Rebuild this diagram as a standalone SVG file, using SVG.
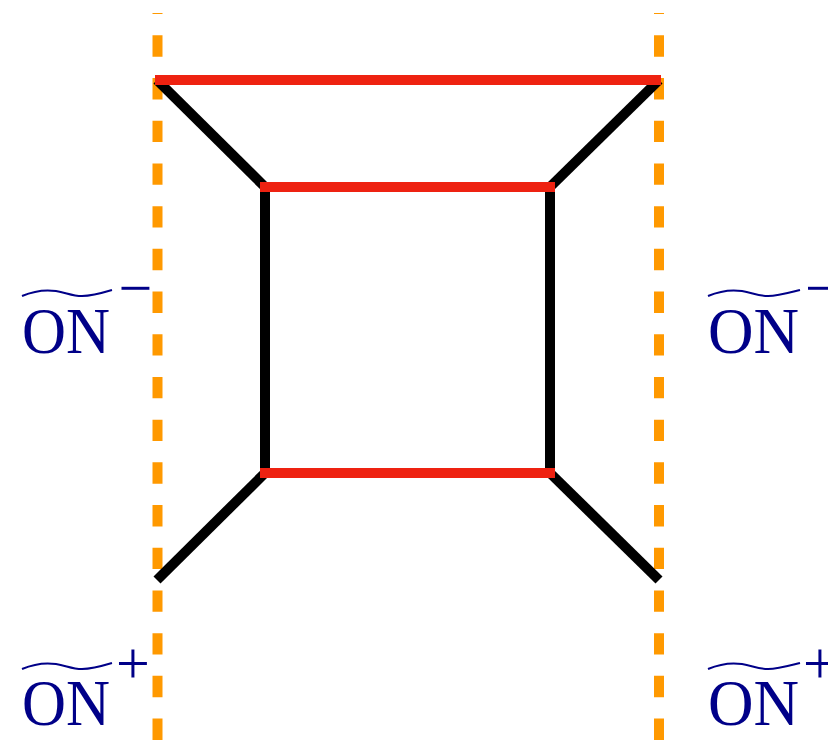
<svg xmlns="http://www.w3.org/2000/svg" width="828" height="741" viewBox="0 0 828 741">
<style>
.guide{stroke:#ff9900;stroke-width:10;stroke-dasharray:21.35 21.35;stroke-dashoffset:20.35;fill:none}
.red{stroke:#ee2211;stroke-width:10;stroke-linecap:butt}
.blk{stroke:#000;stroke-width:10;stroke-linecap:butt}
.lbl{font-family:"Liberation Serif","Times New Roman",serif;font-size:66px;fill:#000088}
.sup{font-family:"Liberation Serif","Times New Roman",serif;font-size:60px;fill:#000088;text-anchor:middle}
.tilde{fill:none;stroke:#000088;stroke-width:2}
</style>
<rect width="828" height="741" fill="#fff"/>
<g id="guides">
<line class="guide" x1="157.5" y1="13" x2="157.5" y2="741"/>
<line class="guide" x1="659" y1="13" x2="659" y2="741"/>
</g>
<g id="connectors">
<line class="blk" x1="157" y1="80" x2="265" y2="187"/>
<line class="blk" x1="659" y1="80" x2="550" y2="187"/>
<line class="blk" x1="265" y1="187" x2="265" y2="473"/>
<line class="blk" x1="550" y1="187" x2="550" y2="473"/>
<line class="blk" x1="265" y1="473" x2="157" y2="580"/>
<line class="blk" x1="550" y1="473" x2="659" y2="580"/>
<line class="red" x1="155" y1="80" x2="661" y2="80"/>
<line class="red" x1="260" y1="187" x2="555" y2="187"/>
<line class="red" x1="260" y1="473" x2="555" y2="473"/>
</g>
<g id="label-tl">
<path class="tilde" d="M22,296 C36,290 46,289.5 56,291 C66,292.5 72,296 82,296 C92,296 102,293 112,290"/>
<text class="lbl" x="22" y="353" textLength="88" lengthAdjust="spacingAndGlyphs">ON</text>
<text class="sup" x="135.5" y="308">−</text>
</g>
<g id="label-bl">
<path class="tilde" d="M22,669 C36,663 46,662.5 56,664 C66,665.5 72,669 82,669 C92,669 102,666 112,663"/>
<text class="lbl" x="22" y="725" textLength="88" lengthAdjust="spacingAndGlyphs">ON</text>
<text class="sup" x="133" y="683">+</text>
</g>
<g id="label-tr">
<path class="tilde" d="M708,296 C722,290 732,289.5 742,291 C752,292.5 758,296 768,296 C778,296 788,293 800,290"/>
<text class="lbl" x="708" y="353" textLength="91" lengthAdjust="spacingAndGlyphs">ON</text>
<text class="sup" x="822" y="308">−</text>
</g>
<g id="label-br">
<path class="tilde" d="M708,669 C722,663 732,662.5 742,664 C752,665.5 758,669 768,669 C778,669 788,666 800,663"/>
<text class="lbl" x="708" y="725" textLength="91" lengthAdjust="spacingAndGlyphs">ON</text>
<text class="sup" x="820" y="683">+</text>
</g>
</svg>
